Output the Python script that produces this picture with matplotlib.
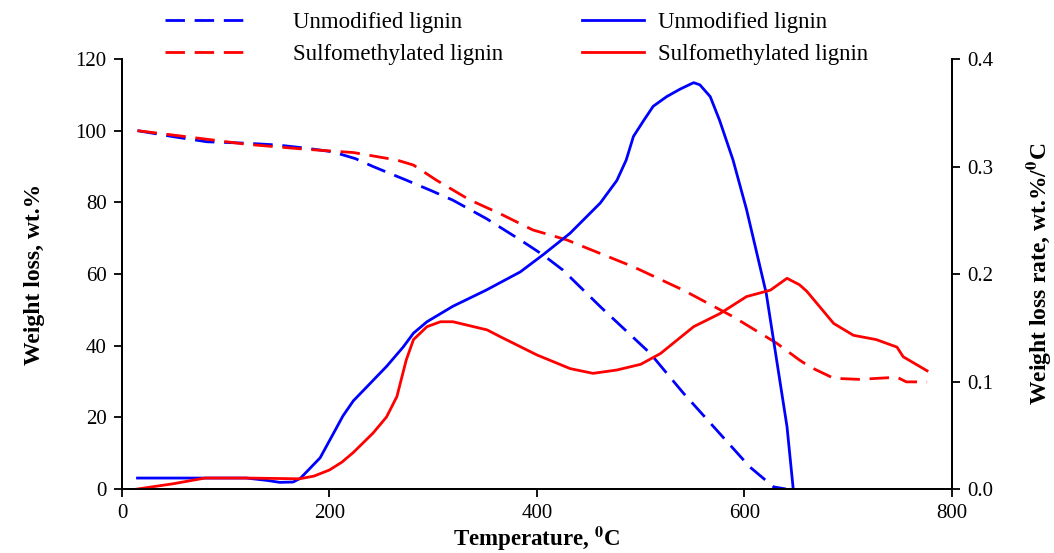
import matplotlib.pyplot as plt
from matplotlib.lines import Line2D

plt.rcParams['font.family'] = ['Liberation Serif', 'DejaVu Serif']
plt.rcParams['mathtext.fontset'] = 'stix'

# TG curves: weight loss (%) vs temperature (C)
tg_unmod_t = [15, 50, 82, 120, 150, 178, 203, 225, 242, 274, 297, 319, 351,
              384, 406, 425, 461, 509, 541, 573, 605, 628, 640]
tg_unmod_w = [100, 98.3, 96.9, 96.5, 96.0, 95.1, 94.1, 92.2, 90.0, 86.2, 83.4,
              80.6, 75.5, 69.5, 65.3, 61.1, 50.9, 37.9, 26.8, 16.5, 6.2, 0.6, 0]

tg_sulf_t = [15, 82, 120, 178, 223, 265, 281, 303, 335, 364, 396, 429, 445,
             493, 541, 589, 631, 653, 663, 686, 711, 747, 756, 776]
tg_sulf_w = [100, 97.6, 96.2, 94.8, 93.9, 91.8, 90.4, 86.2, 80.7, 76.9, 72.3,
             69.5, 67.6, 62.0, 55.5, 48.1, 40.7, 36.0, 34.1, 30.9, 30.6, 31.2,
             29.9, 29.9]

# DTG curves: weight loss rate (%/C) vs temperature (C)
dtg_unmod_t = [15, 120, 140, 152, 165, 172, 191, 204, 213, 223, 231, 239, 255,
               271, 281, 294, 319, 351, 384, 406, 432, 461, 477, 486, 493, 503,
               512, 525, 538, 551, 557, 567, 576, 589, 602, 612, 621, 631, 641,
               647]
dtg_unmod_r = [0.0102, 0.0102, 0.008, 0.0062, 0.0065, 0.010, 0.029, 0.052,
               0.068, 0.082, 0.090, 0.098, 0.114, 0.132, 0.145, 0.1556, 0.170,
               0.185, 0.202, 0.218, 0.238, 0.266, 0.287, 0.306, 0.328, 0.343,
               0.356, 0.365, 0.372, 0.378, 0.376, 0.365, 0.343, 0.306, 0.260,
               0.219, 0.182, 0.120, 0.058, 0.0]

dtg_sulf_t = [15, 50, 80, 120, 171, 185, 200, 212, 223, 242, 255, 265, 274,
              281, 294, 307, 319, 352, 364, 400, 432, 454, 477, 500, 519, 551,
              576, 602, 625, 641, 653, 660, 686, 705, 727, 747, 753, 776]
dtg_sulf_r = [0.0, 0.005, 0.0102, 0.0102, 0.0095, 0.012, 0.0177, 0.025, 0.034,
              0.052, 0.067, 0.086, 0.12, 0.139, 0.151, 0.1556, 0.1556, 0.148,
              0.142, 0.1247, 0.112, 0.1076, 0.1107, 0.116, 0.126, 0.151, 0.163,
              0.179, 0.185, 0.196, 0.190, 0.184, 0.154, 0.143, 0.139, 0.132,
              0.123, 0.110]

blue = '#0000ff'
red = '#ff0000'
lw = 2.0
dash = (7, 3.5)

fig = plt.figure(figsize=(10.54, 5.53), dpi=100)
ax = fig.add_axes([0.1157, 0.1157, 0.7875, 0.7776])
ax2 = ax.twinx()

ax.plot(tg_unmod_t, tg_unmod_w, color=blue, lw=lw, dashes=dash)
ax.plot(tg_sulf_t, tg_sulf_w, color=red, lw=lw, dashes=dash)
ax2.plot(dtg_unmod_t, dtg_unmod_r, color=blue, lw=lw)
ax2.plot(dtg_sulf_t, dtg_sulf_r, color=red, lw=lw)

ax.set_xlim(0, 800)
ax.set_ylim(0, 120)
ax2.set_ylim(0, 0.4)
ax.set_xticks([0, 200, 400, 600, 800])
ax.set_yticks(range(0, 121, 20))
ax2.set_yticks([0.0, 0.1, 0.2, 0.3, 0.4])
ax2.set_yticklabels(['0.0', '0.1', '0.2', '0.3', '0.4'])

for a in (ax, ax2):
    a.spines['top'].set_visible(False)
    for s in a.spines.values():
        s.set_linewidth(1.3)
    a.tick_params(direction='out', length=6, width=1.3, labelsize=15, pad=5)

ax.set_xlabel('Temperature, $^\\mathbf{0}$C', fontsize=16.5, fontweight='bold',
              labelpad=1)
ax.set_ylabel('Weight loss, wt.%', fontsize=17, fontweight='bold', labelpad=22)
ax2.set_ylabel('Weight loss rate, wt.%/$^\\mathbf{0}$C', fontsize=17,
               fontweight='bold', labelpad=22)

# legends above the plot: dashed TG entries left, solid DTG entries right
h_tg = [Line2D([], [], color=blue, lw=lw, dashes=dash),
        Line2D([], [], color=red, lw=lw, dashes=dash)]
h_dtg = [Line2D([], [], color=blue, lw=lw),
         Line2D([], [], color=red, lw=lw)]
labels = ['Unmodified lignin', 'Sulfomethylated lignin']
fig.legend(h_tg, labels, loc='upper left', bbox_to_anchor=(0.137, 1.015),
           frameon=False, fontsize=16.5, handlelength=3.4, handletextpad=2.2,
           labelspacing=0.45)
fig.legend(h_dtg, labels, loc='upper left', bbox_to_anchor=(0.533, 1.015),
           frameon=False, fontsize=16.5, handlelength=2.7, handletextpad=0.6,
           labelspacing=0.45)

fig.savefig('out.png', dpi=100)
